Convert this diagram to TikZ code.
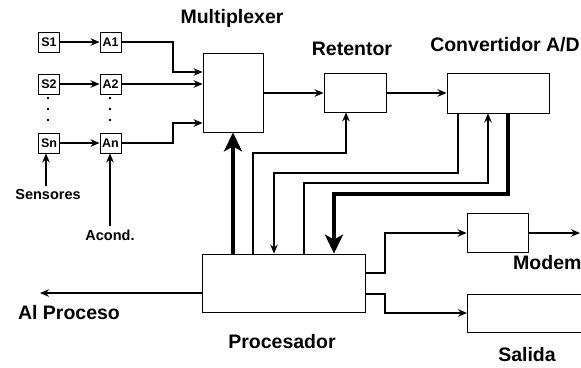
\documentclass[tikz,border=0pt]{standalone}
\usepackage{fontspec}
\setmainfont{Liberation Sans}
\usetikzlibrary{arrows.meta}
\begin{document}
\begin{tikzpicture}[x=1pt,y=-1pt,
  blk/.style={draw, line width=0.8pt, inner sep=0pt},
  sbox/.style={draw, line width=0.9pt, inner sep=0pt, minimum width=21pt, minimum height=20pt, font=\fontsize{12.5}{13}\selectfont\bfseries},
  biglbl/.style={inner sep=0pt, font=\fontsize{19.5}{21}\selectfont\bfseries},
  midlbl/.style={inner sep=0pt, font=\fontsize{14.5}{16}\selectfont\bfseries},
  conn/.style={line width=1.6pt, -{Stealth[length=9pt,width=7.5pt]}},
  bus/.style={line width=3.6pt, -{Stealth[length=19pt,width=18pt,inset=5pt]}},
  dotmark/.style={fill, circle, inner sep=0pt, minimum size=2.8pt}
]
\useasboundingbox (0,0) rectangle (581,367);

% sensors and conditioners
\node[sbox] (s1) at (49,42) {S1};
\node[sbox] (s2) at (49,84) {S2};
\node[sbox] (sn) at (49,143) {Sn};
\node[sbox] (a1) at (110.5,42) {A1};
\node[sbox] (a2) at (110.5,84) {A2};
\node[sbox] (an) at (110.5,143) {An};
\foreach \yy [count=\i] in {98,109,120}{
  \node[dotmark] (ds\i) at (48,\yy) {};
  \node[dotmark] (da\i) at (110,\yy) {};
}
\draw[conn] (s1) -- (a1);
\draw[conn] (s2) -- (a2);
\draw[conn] (sn) -- (an);

\node[midlbl] (sens) at (48,195) {Sensores};
\node[midlbl] (acond) at (110,235) {Acond.};
\coordinate (sensbase) at (46,186);
\coordinate (acbase) at (110,226);
\draw[conn] (sensbase) -- (sn.south -| sensbase);
\draw[conn] (acbase) -- (an.south -| acbase);

% main blocks
\node[blk, minimum width=60pt, minimum height=79pt] (mux) at (233,92.5) {};
\node[blk, minimum width=62pt, minimum height=39pt] (ret) at (355,92.5) {};
\node[blk, minimum width=102pt, minimum height=40pt] (adc) at (498,93) {};
\node[blk, minimum width=163pt, minimum height=58pt] (proc) at (283.5,283) {};
\node[blk, minimum width=61pt, minimum height=39pt] (modem) at (497.5,232.5) {};
\node[blk, minimum width=140pt, minimum height=38pt, anchor=north west] (sal) at (467,294) {};

% labels
\node[biglbl] (lmux) at (232,18) {Multiplexer};
\node[biglbl] (lret) at (352,49) {Retentor};
\node[biglbl] (ladc) at (505,45) {Convertidor A/D};
\node[biglbl, anchor=west] (lmod) at (513,263) {Modem};
\node[biglbl] (lproc) at (282,342) {Procesador};
\node[biglbl] (lsal) at (527,355) {Salida};
\node[biglbl] (lal) at (69,313) {Al Proceso};

% conditioners to multiplexer
\draw[conn] (a1.east) -- (173,42) -- (173,72) -- (mux.west |- 0,72);
\draw[conn] (a2.east) -- (mux.west |- a2.east);
\draw[conn] (an.east) -- (173,143) -- (173,123) -- (mux.west |- 0,123);

% chain
\draw[conn] (mux.east |- 0,93) -- (ret.west |- 0,93);
\draw[conn] (ret.east |- 0,93) -- (adc.west |- 0,93);

% control lines
\draw[bus] (233,0 |- proc.north) -- (233,0 |- mux.south);
\draw[conn] (253,0 |- proc.north) -- (253,153) -- (346,153) -- (346,0 |- ret.south);
\draw[conn] (458,0 |- adc.south) -- (458,173) -- (274,173) -- (274,0 |- proc.north);
\draw[conn] (304,0 |- proc.north) -- (304,183) -- (488,183) -- (488,0 |- adc.south);
\draw[bus] (508,0 |- adc.south) -- (508,194) -- (334,194) -- (334,0 |- proc.north);

% outputs
\coordinate (alend) at (40,293);
\coordinate (modend) at (580,233);
\draw[conn] (proc.west |- alend) -- (alend);
\draw[conn] (proc.east |- 0,273) -- (385,273) -- (385,233) -- (modem.west |- 0,233);
\draw[conn] (proc.east |- 0,294) -- (385,294) -- (385,313) -- (sal.west |- 0,313);
\draw[conn] (modem.east |- modend) -- (modend);
\end{tikzpicture}
\end{document}
